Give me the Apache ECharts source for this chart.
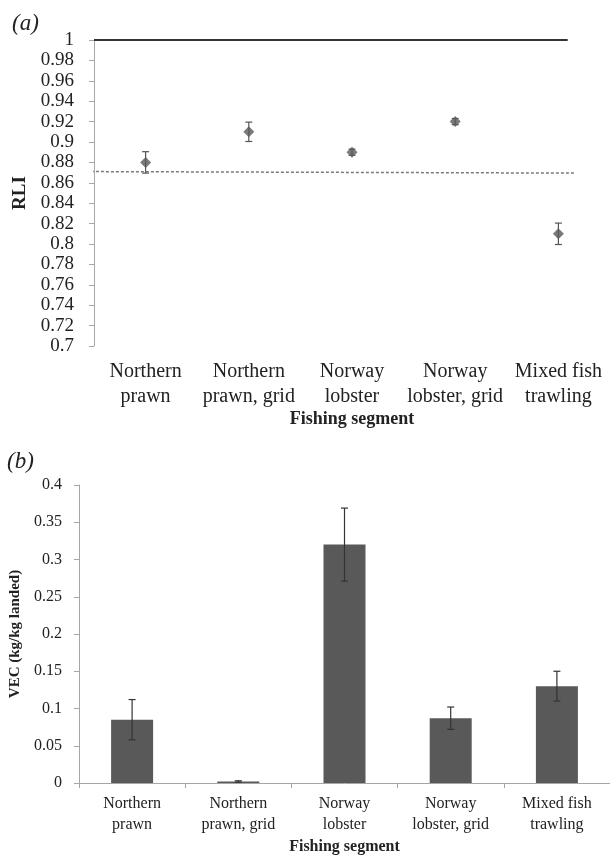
<!DOCTYPE html>
<html>
<head>
<meta charset="utf-8">
<script src="https://cdn.jsdelivr.net/npm/echarts@6/dist/echarts.min.js"></script>
<style>html,body{margin:0;padding:0;background:#fff}#c{width:610px;height:856px}</style>
</head>
<body>
<div id="c"></div>
<script>
const categories = ['Northern\nprawn', 'Northern\nprawn, grid', 'Norway\nlobster', 'Norway\nlobster, grid', 'Mixed fish\ntrawling'];
// Panel (a): RLI
const rliValues = [0.88, 0.91, 0.89, 0.92, 0.81];
const rliErrors = [0.0105, 0.0095, 0.003, 0.003, 0.0105];
const rliTopLine = [[0.5, 1], [5.09, 1]];
const rliRefLine = [[0.47, 0.871], [5.154, 0.8695]];
// Panel (b): VEC
const vecValues = [0.085, 0.002, 0.32, 0.087, 0.13];
const vecErrors = [0.027, 0.001, 0.049, 0.015, 0.02];

const FONT = 'Liberation Serif';
const TXT = '#222';
const AX = '#a6a6a6';

function errData(vals, errs) {
  return vals.map((v, i) => [i, v - errs[i], v + errs[i]]);
}
function errRender(color, cap) {
  return function (params, api) {
    const x = api.value(0);
    const lo = api.coord([x, api.value(1)]);
    const hi = api.coord([x, api.value(2)]);
    const st = { stroke: color, lineWidth: 1.2 };
    return {
      type: 'group',
      children: [
        { type: 'line', shape: { x1: lo[0], y1: lo[1], x2: hi[0], y2: hi[1] }, style: st },
        { type: 'line', shape: { x1: lo[0] - cap, y1: lo[1], x2: lo[0] + cap, y2: lo[1] }, style: st },
        { type: 'line', shape: { x1: hi[0] - cap, y1: hi[1], x2: hi[0] + cap, y2: hi[1] }, style: st }
      ]
    };
  };
}
const fmt = v => String(+(+v).toFixed(2));

const chart = echarts.init(document.getElementById('c'), null, { renderer: 'canvas' });
chart.setOption({
  animation: false,
  backgroundColor: '#fff',
  title: [
    { text: '(a)', left: 12, top: 12, padding: 0, textStyle: { fontFamily: FONT, fontStyle: 'italic', fontWeight: 'normal', fontSize: 23, color: TXT } },
    { text: '(b)', left: 7, top: 450, padding: 0, textStyle: { fontFamily: FONT, fontStyle: 'italic', fontWeight: 'normal', fontSize: 23, color: TXT } }
  ],
  grid: [
    { left: 94, top: 40, width: 520, height: 306, containLabel: false },
    { left: 79, top: 485, width: 540, height: 298, containLabel: false }
  ],
  xAxis: [
    {
      gridIndex: 0, type: 'category', data: categories,
      axisLine: { show: false }, axisTick: { show: false },
      axisLabel: { interval: 0, margin: 13, fontFamily: FONT, fontSize: 20, lineHeight: 25, color: TXT },
      name: 'Fishing segment', nameLocation: 'middle', nameGap: 62,
      nameTextStyle: { fontFamily: FONT, fontWeight: 'bold', fontSize: 18, color: TXT }
    },
    { gridIndex: 0, type: 'value', min: 0.5, max: 5.5, show: false },
    {
      gridIndex: 1, type: 'category', data: categories,
      axisLine: { show: true, lineStyle: { color: AX, width: 1 } },
      axisTick: { show: true, length: 5, lineStyle: { color: AX } },
      axisLabel: { interval: 0, margin: 10, fontFamily: FONT, fontSize: 16, lineHeight: 21, color: TXT },
      name: 'Fishing segment', nameLocation: 'middle', nameGap: 56,
      nameTextStyle: { fontFamily: FONT, fontWeight: 'bold', fontSize: 16, color: TXT }
    }
  ],
  yAxis: [
    {
      gridIndex: 0, type: 'value', min: 0.7, max: 1, interval: 0.02,
      axisLine: { show: true, lineStyle: { color: AX } },
      axisTick: { show: true, length: 5, lineStyle: { color: AX } },
      splitLine: { show: false },
      axisLabel: { margin: 20, fontFamily: FONT, fontSize: 19, color: TXT, formatter: fmt },
      name: 'RLI', nameLocation: 'middle', nameGap: 61,
      nameTextStyle: { fontFamily: FONT, fontWeight: 'bold', fontSize: 19, color: TXT }
    },
    {
      gridIndex: 1, type: 'value', min: 0, max: 0.4, interval: 0.05,
      axisLine: { show: true, lineStyle: { color: AX } },
      axisTick: { show: true, length: 5, lineStyle: { color: AX } },
      splitLine: { show: false },
      axisLabel: { margin: 17, fontFamily: FONT, fontSize: 16, color: TXT, formatter: fmt },
      name: 'VEC (kg/kg landed)', nameLocation: 'middle', nameGap: 52,
      nameTextStyle: { fontFamily: FONT, fontWeight: 'bold', fontSize: 15, color: TXT }
    }
  ],
  series: [
    {
      type: 'line', xAxisIndex: 1, yAxisIndex: 0, data: rliTopLine, symbol: 'none', clip: false,
      lineStyle: { color: '#333', width: 2 }, silent: true
    },
    {
      type: 'line', xAxisIndex: 1, yAxisIndex: 0, data: rliRefLine, symbol: 'none', clip: false,
      lineStyle: { color: '#7a7a7a', width: 1.5, type: [3, 2] }, silent: true
    },
    {
      type: 'custom', xAxisIndex: 0, yAxisIndex: 0, data: errData(rliValues, rliErrors),
      renderItem: errRender('#555', 3.5), encode: { x: 0, y: [1, 2] }, z: 3
    },
    {
      type: 'scatter', xAxisIndex: 0, yAxisIndex: 0, data: rliValues,
      symbol: 'diamond', symbolSize: [11, 11], itemStyle: { color: '#595959' }, z: 4
    },
    {
      type: 'bar', xAxisIndex: 2, yAxisIndex: 1, data: vecValues, barWidth: 42,
      itemStyle: { color: '#595959' }
    },
    {
      type: 'custom', xAxisIndex: 2, yAxisIndex: 1, data: errData(vecValues, vecErrors),
      renderItem: errRender('#333', 3.5), encode: { x: 0, y: [1, 2] }, z: 5
    }
  ]
});
</script>
</body>
</html>
